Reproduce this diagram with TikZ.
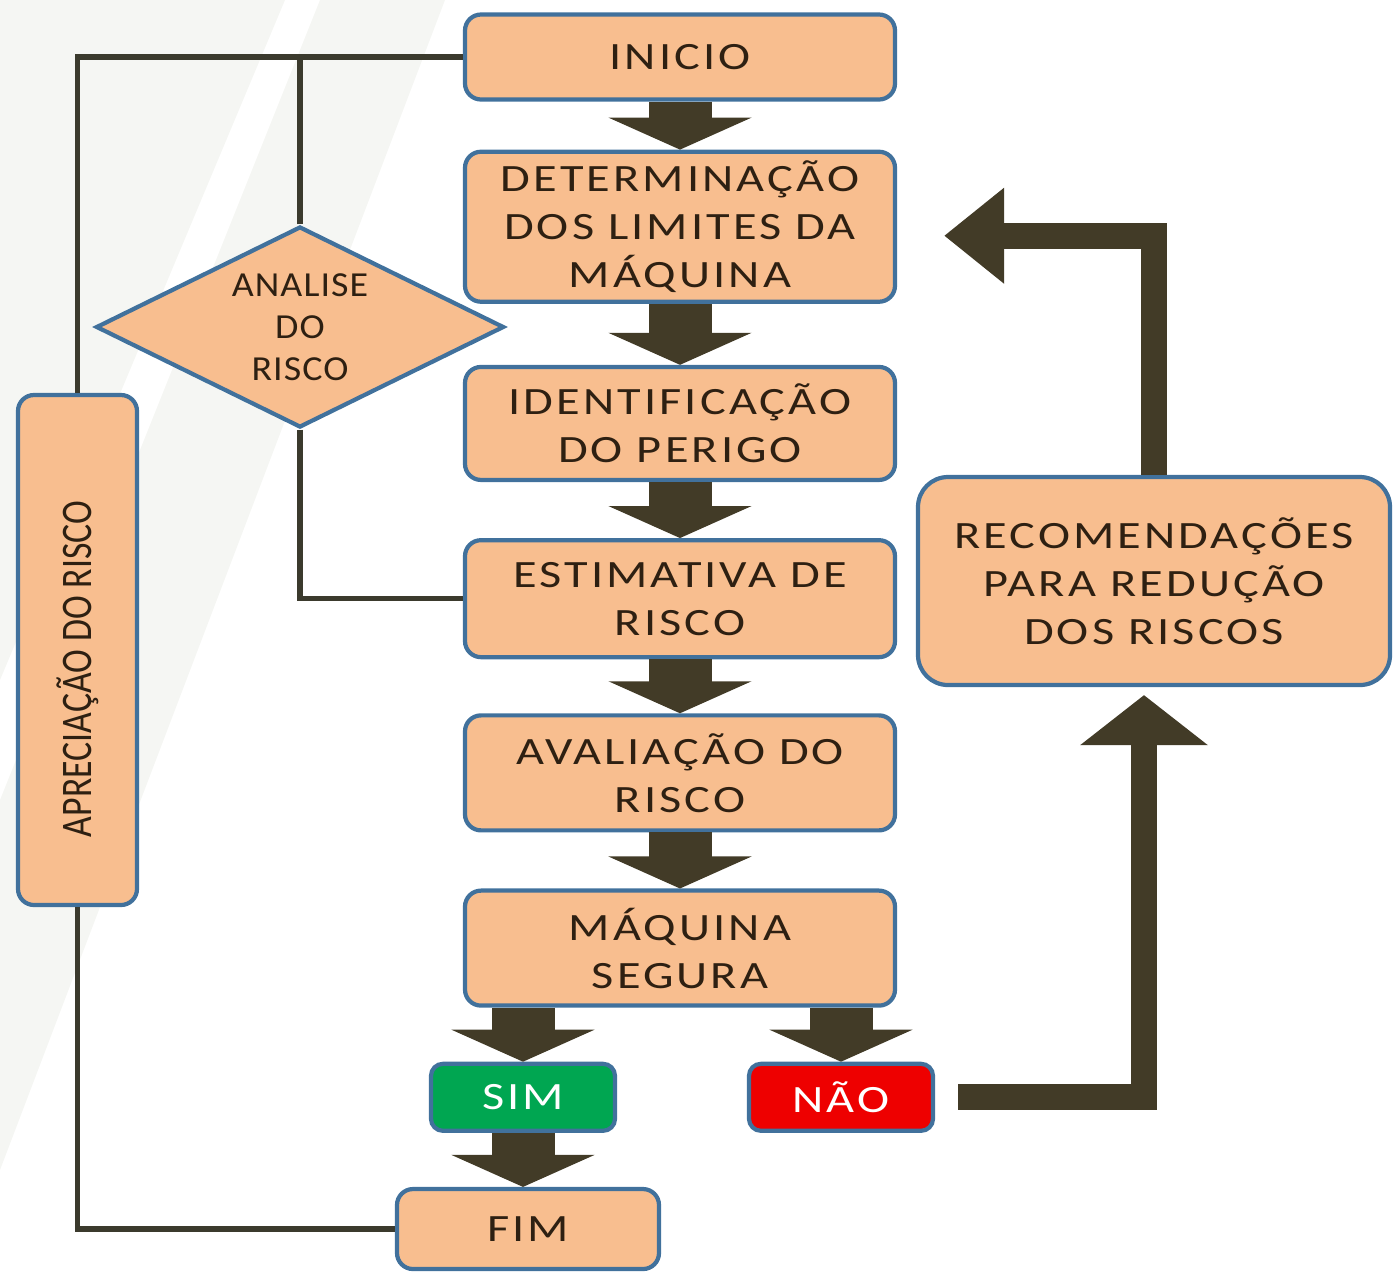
\documentclass[tikz,border=0pt]{standalone}
\usepackage{fontspec}
\setmainfont{Carlito}[FakeStretch=1.25,LetterSpace=8]
\newfontfamily\condfont{Carlito}[FakeStretch=0.82]
\newfontfamily\diafont{Carlito}[FakeStretch=1.08,LetterSpace=3]
\usetikzlibrary{shapes.geometric,arrows.meta,positioning}

\definecolor{pessego}{HTML}{F8BE8F}
\definecolor{borda}{HTML}{41719C}
\definecolor{setacor}{HTML}{423B27}
\definecolor{linhacor}{HTML}{3B3A2D}
\definecolor{textocor}{HTML}{2E2012}
\definecolor{simverde}{HTML}{00A651}
\definecolor{naovermelho}{HTML}{EE0000}
\definecolor{fundo}{HTML}{F5F6F3}

\begin{document}
\begin{tikzpicture}[node distance=0.54cm, >=Stealth,
    etapa/.style={rectangle, rounded corners=0.16cm, draw=borda, line width=1.2pt, fill=pessego, text=textocor, minimum width=4.3cm, align=center, inner sep=2pt, font=\fontsize{11}{13.7}\selectfont},
    decisao/.style={diamond, aspect=2, draw=borda, line width=1.2pt, fill=pessego, text=textocor, minimum width=4.08cm, minimum height=2.01cm, inner sep=0pt, align=center, font=\diafont\fontsize{10}{12}\selectfont},
    resposta/.style={rectangle, rounded corners=0.12cm, draw=borda, line width=1.2pt, text=white, minimum width=1.84cm, minimum height=0.67cm, font=\fontsize{11}{13.7}\selectfont},
    linha/.style={draw=linhacor, line width=1.5pt},
    seta/.style={setacor, line width=0.63cm, -{Triangle[width=1.42cm,length=0.32cm]}},
    grossa/.style={setacor, line width=0.26cm, -{Triangle[width=1.25cm,length=0.5cm]}}]

    \useasboundingbox (0,0) rectangle (13.94,-12.75);
    % fundo
    \fill[fundo] (0,0) -- (2.85,0) -- (0,-6.8) -- cycle;
    \fill[fundo] (3.2,0) -- (4.45,0) -- (0,-11.7) -- (0,-8.0) -- cycle;

    % Nodes
    \node (init) [etapa, minimum height=0.85cm] at (6.8,-0.57) {INICIO};
    \node (det) [etapa, minimum height=1.5cm, below=0.48cm of init] {DETERMINAÇÃO\\DOS LIMITES DA\\MÁQUINA};
    \node (iden) [etapa, minimum height=1.13cm, below=0.61cm of det] {IDENTIFICAÇÃO\\DO PERIGO};
    \node (est) [etapa, minimum height=1.17cm, below=0.56cm of iden] {ESTIMATIVA DE\\RISCO};
    \node (aval) [etapa, minimum height=1.15cm, below=0.54cm of est] {AVALIAÇÃO DO\\RISCO};
    \node (maq) [etapa, minimum height=1.15cm, below=0.56cm of aval] {MÁQUINA\\SEGURA};
    \node (sim) [resposta, fill=simverde, below=0.54cm of maq, xshift=-1.57cm] {SIM};
    \node (nao) [resposta, fill=naovermelho, below=0.54cm of maq, xshift=1.61cm] {NÃO};
    \node (fim) [etapa, minimum width=2.62cm, minimum height=0.8cm, below=0.54cm of sim, xshift=0.05cm] {FIM};
    \node (anal) [decisao] at (3.0,-3.27) {ANALISE\\DO\\RISCO};
    \node (apr) [etapa, minimum width=1.19cm, minimum height=5.1cm] at (0.775,-6.5) {\condfont\fontsize{12.4}{14}\selectfont\rotatebox{90}{APRECIAÇÃO DO RISCO\hspace{0.38cm}}};
    \node (rec) [etapa, rounded corners=0.3cm, minimum width=4.72cm, minimum height=2.08cm] at (11.54,-5.81) {RECOMENDAÇÕES\\PARA REDUÇÃO\\DOS RISCOS};

    % Edges
    \draw[linha] (init.west) -| (apr.north);
    \draw[linha] (anal.north) -- (anal.north |- init.west);
    \draw[linha] (anal.south) |- (est.west);
    \draw[linha] (apr.south) |- (fim.west);

    \draw[seta] (init) -- (det);
    \draw[seta] (det) -- (iden);
    \draw[seta] (iden) -- (est);
    \draw[seta] (est) -- (aval);
    \draw[seta] (aval) -- (maq);
    \draw[seta] (maq.south -| sim.north) -- (sim);
    \draw[seta] (maq.south -| nao.north) -- (nao);
    \draw[seta] (sim) -- (sim |- fim.north);

    \draw[grossa, shorten <=0.23cm, shorten >=0.08cm] (nao.east) -| ([xshift=-0.1cm]rec.south);
    \draw[grossa, -{Triangle[width=0.92cm,length=0.6cm]}, shorten >=0.47cm] (rec.north) |- ([yshift=-0.09cm]det.east);
\end{tikzpicture}
\end{document}
